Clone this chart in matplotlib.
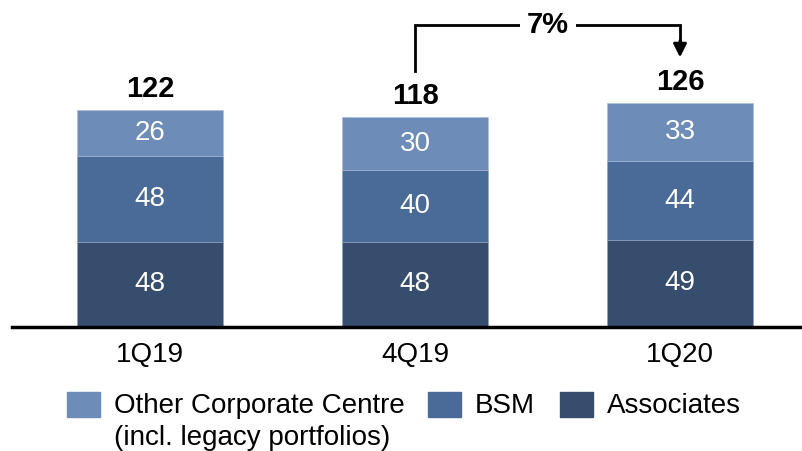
import matplotlib.pyplot as plt
from matplotlib.patches import Rectangle
import numpy as np

plt.rcParams['font.family'] = ['Liberation Sans', 'DejaVu Sans']

quarters = ['1Q19', '4Q19', '1Q20']
associates = [48, 48, 49]
bsm = [48, 40, 44]
other_cc = [26, 30, 33]
totals = [122, 118, 126]
growth_label = '7%'

c_assoc = '#374d6e'
c_bsm = '#4a6a98'
c_other = '#6d8cb8'

W, H = 802, 451
fig = plt.figure(figsize=(W / 100, H / 100), dpi=100)
ax = fig.add_axes([12 / W, (H - 327) / H, 790 / W, 327 / H])

x = np.arange(len(quarters))
bw = 0.551
ax.bar(x, associates, bw, color=c_assoc, edgecolor='#8fa3c0', linewidth=0.4)
ax.bar(x, bsm, bw, bottom=associates, color=c_bsm, edgecolor='#8fa3c0', linewidth=0.4)
base2 = np.array(associates) + np.array(bsm)
ax.bar(x, other_cc, bw, bottom=base2, color=c_other, edgecolor='#a9bcd6', linewidth=0.4)

for i in range(len(quarters)):
    ax.text(x[i], associates[i] / 2, str(associates[i]), ha='center', va='center',
            color='white', fontsize=20)
    ax.text(x[i], associates[i] + bsm[i] / 2, str(bsm[i]), ha='center', va='center',
            color='white', fontsize=20)
    ax.text(x[i], base2[i] + other_cc[i] / 2, str(other_cc[i]), ha='center', va='center',
            color='white', fontsize=20)
    ax.text(x[i], totals[i] + 4, str(totals[i]), ha='center', va='bottom',
            fontsize=21, fontweight='bold')

ax.set_xlim((12 - 150) / 265, (802 - 150) / 265)
ax.set_ylim(0, 327 / 1.78)
ax.axis('off')
ax.axhline(0, color='black', lw=2.5, clip_on=False)

for i, q in enumerate(quarters):
    ax.text(x[i], -16, q, ha='center', va='center', fontsize=20)

# bracket arrow from 4Q19 to 1Q20
y_top = 169.7
ax.plot([1, 1, 2, 2], [totals[1] + 26, y_top, y_top, totals[2] + 34],
        color='black', lw=2, solid_joinstyle='miter')
ax.annotate('', xy=(2, totals[2] + 25.5), xytext=(2, totals[2] + 35),
            arrowprops=dict(arrowstyle='-|>', color='black', lw=2,
                            mutation_scale=20, shrinkA=0, shrinkB=0))
ax.text(1.5, y_top, growth_label, ha='center', va='center', fontsize=21,
        fontweight='bold', bbox=dict(facecolor='white', edgecolor='none', pad=5))

# legend
legend_items = [(67, ['Other Corporate Centre', '(incl. legacy portfolios)'], c_other),
                (428, ['BSM'], c_bsm),
                (560, ['Associates'], c_assoc)]
for px, lines, col in legend_items:
    fig.add_artist(Rectangle((px / W, (H - 417) / H), 33 / W, 25 / H,
                             color=col, transform=fig.transFigure))
    for k, line in enumerate(lines):
        fig.text((px + 47) / W, (H - 406 - 32 * k) / H, line, ha='left',
                 va='center', fontsize=20)

fig.savefig('out.png', dpi=100)
